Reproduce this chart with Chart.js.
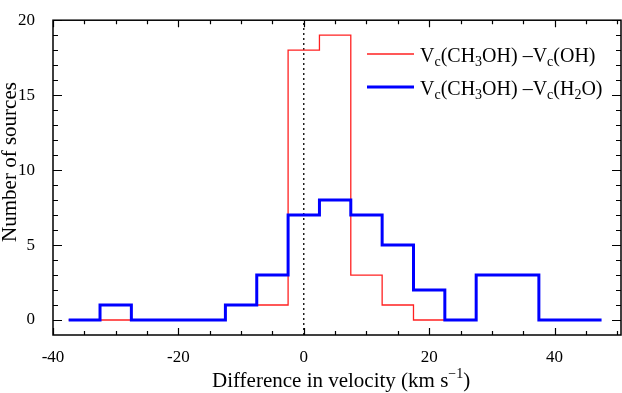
<!DOCTYPE html>
<html>
<head>
<meta charset="utf-8">
<script src="https://cdn.jsdelivr.net/npm/chart.js@4.4.0/dist/chart.umd.min.js"></script>
<style>
  html, body { margin: 0; padding: 0; background: #fff; }
  #wrap { width: 622px; height: 393px; }
</style>
</head>
<body>
<div id="wrap"><canvas id="velocityChart" width="622" height="393"></canvas></div>
<script>
// Histogram of velocity differences (bin width 5 km/s)
const binCenters = [-35, -30, -25, -20, -15, -10, -5, 0, 5, 10, 15, 20, 25, 30, 35, 40, 45]
const h2oCounts = [0, 1, 0, 0, 0, 1, 3, 7, 8, 7, 5, 2, 0, 3, 3, 0, 0]
const ohCounts = [0, 0, 0, 0, 0, 1, 1, 18, 19, 3, 1, 0]
const xTicks = [-40, -20, 0, 20, 40]
const yTicks = [0, 5, 10, 15, 20]
const binWidth = 5

const serif = "'Liberation Serif', 'Times New Roman', serif"

// turn counts into step points at the bin edges
function stepPoints(counts) {
  const pts = counts.map((v, i) => ({ x: binCenters[i] - binWidth / 2, y: v }))
  const last = counts.length - 1
  pts.push({ x: binCenters[last] + binWidth / 2, y: counts[last] })
  return pts
}

// draw a run of [text, mode] parts, mode: "n" normal, "sub", "sup"
function drawRich(ctx, parts, x, y, size) {
  let cx = x
  parts.forEach(([txt, mode]) => {
    const s = mode === "n" ? size : Math.round(size * 0.68)
    const dy = mode === "sub" ? size * 0.22 : mode === "sup" ? -size * 0.42 : 0
    ctx.font = s + "px " + serif
    ctx.fillText(txt, cx, y + dy)
    cx += ctx.measureText(txt).width
  })
  return cx
}

const framePlugin = {
  id: "frame",
  afterDraw(chart) {
    const { ctx, chartArea: a, scales } = chart
    const xs = scales.x, ys = scales.y
    ctx.save()
    ctx.strokeStyle = "#000"
    ctx.lineWidth = 1.5
    ctx.strokeRect(a.left, a.top, a.right - a.left, a.bottom - a.top)
    ctx.lineWidth = 1.2
    ctx.beginPath()
    for (let v = -40; v <= 50; v += 5) {
      const px = Math.round(xs.getPixelForValue(v)) + 0.5
      const len = v % 20 === 0 ? 7 : 4
      ctx.moveTo(px, a.bottom); ctx.lineTo(px, a.bottom - len)
      ctx.moveTo(px, a.top); ctx.lineTo(px, a.top + len)
    }
    for (let v = 0; v <= 20; v += 1) {
      const py = Math.round(ys.getPixelForValue(v)) + 0.5
      const len = v % 5 === 0 ? 9 : 5
      ctx.moveTo(a.left, py); ctx.lineTo(a.left + len, py)
      ctx.moveTo(a.right, py); ctx.lineTo(a.right - len, py)
    }
    ctx.stroke()

    // axis titles
    ctx.fillStyle = "#000"
    ctx.textBaseline = "alphabetic"
    const xTitle = [["Difference in velocity (km s", "n"], ["\u22121", "sup"], [")", "n"]]
    drawRich(ctx, xTitle, 212, 387, 21)

    ctx.save()
    ctx.translate(16, 162)
    ctx.rotate(-Math.PI / 2)
    ctx.font = "21px " + serif
    ctx.textAlign = "center"
    ctx.fillText("Number of sources", 0, 0)
    ctx.restore()

    // legend
    const rows = [
      { color: "#ff2020", width: 1.3, y: 54, parts: [["V", "n"], ["c", "sub"], ["(CH", "n"], ["3", "sub"], ["OH) \u2013V", "n"], ["c", "sub"], ["(OH)", "n"]] },
      { color: "#0000ff", width: 3, y: 87, parts: [["V", "n"], ["c", "sub"], ["(CH", "n"], ["3", "sub"], ["OH) \u2013V", "n"], ["c", "sub"], ["(H", "n"], ["2", "sub"], ["O)", "n"]] },
    ]
    rows.forEach((r) => {
      ctx.strokeStyle = r.color
      ctx.lineWidth = r.width
      ctx.beginPath()
      ctx.moveTo(367, r.y); ctx.lineTo(414, r.y)
      ctx.stroke()
      ctx.fillStyle = "#000"
      drawRich(ctx, r.parts, 420, r.y + 8, 20)
    })
    ctx.restore()
  },
}

const ctx = document.getElementById("velocityChart")
new Chart(ctx, {
  type: "line",
  data: {
    datasets: [
      {
        label: "Vc(CH3OH) - Vc(H2O)",
        data: stepPoints(h2oCounts),
        borderColor: "#0000ff",
        borderWidth: 3,
        stepped: "before",
        pointRadius: 0,
        fill: false,
        order: 0,
      },
      {
        label: "Vc(CH3OH) - Vc(OH)",
        data: stepPoints(ohCounts),
        borderColor: "#ff2020",
        borderWidth: 1.3,
        stepped: "before",
        pointRadius: 0,
        fill: false,
        order: 1,
      },
      {
        label: "zero",
        data: [{ x: 0, y: -1 }, { x: 0, y: 20 }],
        borderColor: "#000",
        borderWidth: 1.3,
        borderDash: [2, 3],
        pointRadius: 0,
        fill: false,
        order: 2,
      },
    ],
  },
  options: {
    responsive: false,
    animation: false,
    layout: { padding: { top: 6, right: 1, left: 0, bottom: 0 } },
    plugins: {
      legend: { display: false },
      tooltip: { enabled: false },
    },
    scales: {
      x: {
        type: "linear",
        min: -40,
        max: 50.6,
        grid: { display: false },
        border: { display: false },
        afterBuildTicks: (s) => { s.ticks = xTicks.map((v) => ({ value: v })) },
        afterFit: (s) => { s.height = 58 },
        ticks: {
          color: "#000",
          font: { family: serif, size: 17 },
          padding: 4,
          maxRotation: 0,
          callback: (v) => String(v),
        },
      },
      y: {
        type: "linear",
        min: -1,
        max: 20,
        grid: { display: false },
        border: { display: false },
        afterBuildTicks: (s) => { s.ticks = yTicks.map((v) => ({ value: v })) },
        afterFit: (s) => { s.width = 53 },
        ticks: {
          color: "#000",
          font: { family: serif, size: 17 },
          padding: 10,
          callback: (v) => String(v),
        },
      },
    },
  },
  plugins: [framePlugin],
})
</script>
</body>
</html>
